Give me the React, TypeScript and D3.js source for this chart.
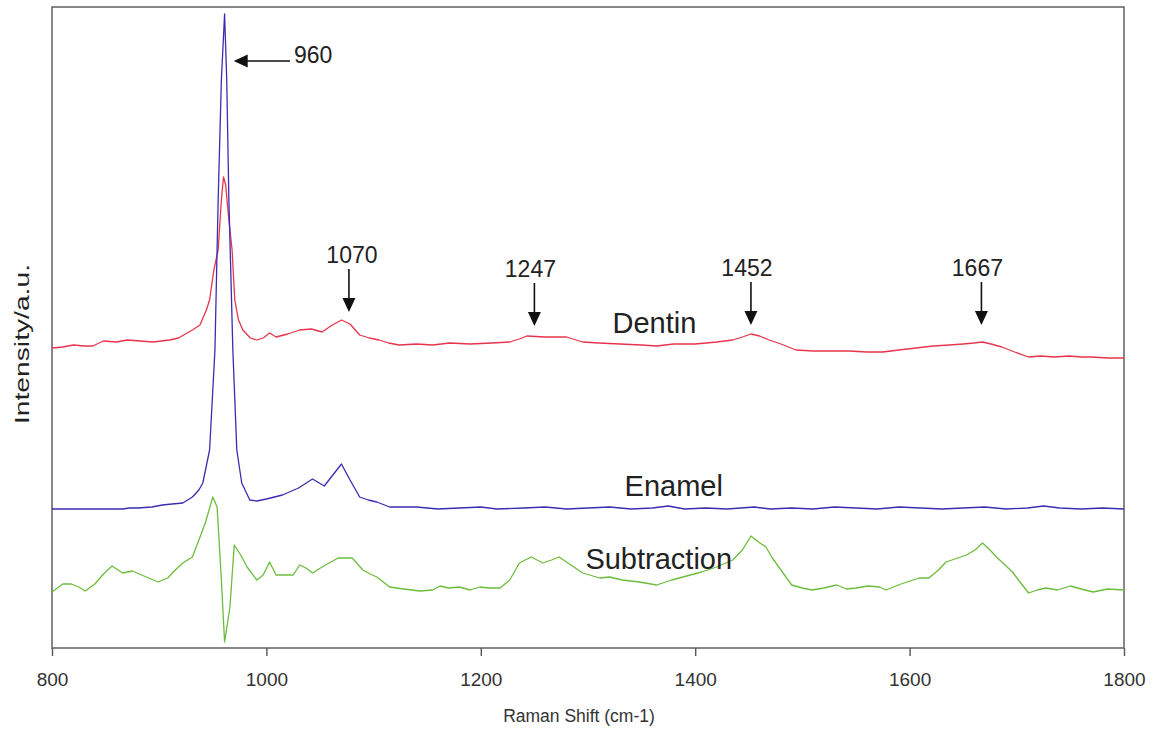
import React, { useEffect, useRef } from "react";
import * as d3 from "d3";

// Raman shift (cm-1) and intensity (a.u.) pairs
const dentin: [number, number][] = [
  [800, 302], [810, 303], [820, 305], [830, 304], [838, 304], [848, 309], [860, 308],
  [870, 310], [882, 309], [894, 308], [902, 309], [910, 310], [918, 312], [926, 317],
  [931, 320], [938, 325], [944, 340], [947, 350], [951, 380], [955, 400], [958, 450],
  [960, 473], [962, 465], [965, 430], [968, 400], [970.5, 350], [974, 330], [978, 320],
  [985, 312], [991, 310], [997, 312], [1003, 317], [1009, 313], [1020, 316], [1031, 320],
  [1042, 321], [1052, 318], [1060, 324], [1070, 330], [1078, 326], [1087, 315],
  [1096, 312], [1105, 310], [1114, 307], [1124, 305], [1140, 306], [1155, 305],
  [1171, 307], [1190, 306], [1210, 307], [1227, 308], [1236, 311], [1243, 314],
  [1260, 313], [1280, 313], [1295, 308], [1310, 307], [1330, 306], [1350, 305],
  [1364, 304], [1380, 306], [1400, 306], [1420, 308], [1435, 310], [1444, 313],
  [1452, 316], [1460, 314], [1469, 310], [1480, 306], [1494, 300], [1510, 299],
  [1544, 299], [1560, 298], [1575, 298], [1590, 300], [1606, 302], [1622, 304],
  [1637, 305], [1650, 306], [1660, 307], [1668, 308], [1676, 306], [1686, 303],
  [1698, 298], [1711, 293], [1722, 294], [1735, 293], [1749, 294], [1760, 293],
  [1770, 293], [1785, 292], [1800, 292],
];

const enamel: [number, number][] = [
  [800, 141], [830, 141], [866, 141], [872, 142], [880, 142], [893, 143], [903, 145],
  [912, 146], [922, 147], [931, 153], [937, 160], [940.7, 167], [947, 200], [952, 300],
  [955, 450], [958, 570], [961, 636], [963, 570], [965, 450], [968.7, 300], [972.4, 200],
  [977, 167], [984.5, 150], [991, 149], [1000, 151], [1015, 155], [1030, 162],
  [1043, 171], [1054, 164], [1062, 175], [1070, 186], [1078, 170], [1087, 153],
  [1095, 150], [1103, 148], [1115, 143], [1124, 143], [1140, 143], [1160, 141],
  [1180, 142], [1200, 143], [1215, 141], [1240, 142], [1260, 143], [1280, 141],
  [1300, 142], [1320, 143], [1340, 141], [1360, 142], [1375, 144], [1390, 141],
  [1410, 142], [1430, 141], [1455, 143], [1470, 141], [1490, 142], [1510, 141],
  [1530, 143], [1550, 142], [1570, 141], [1590, 143], [1610, 142], [1630, 141],
  [1650, 142], [1670, 143], [1690, 141], [1710, 142], [1725, 144], [1740, 142],
  [1760, 141], [1780, 142], [1800, 141],
];

const subtraction: [number, number][] = [
  [800, 58], [810, 66], [818, 66], [825, 63], [831, 59], [840, 66], [848, 76], [856, 84],
  [866, 77], [875, 79], [888, 73], [899, 68], [908, 72], [915, 80], [922, 87], [931, 93],
  [937, 110], [943, 127], [950, 153], [954, 143], [958, 70], [961, 8], [966, 43],
  [970, 105], [976, 95], [982, 83], [991, 70], [997, 75], [1003, 88], [1009, 75],
  [1025, 75], [1031, 85], [1037, 82], [1043, 77], [1055, 85], [1067, 92], [1080, 92],
  [1090, 80], [1097, 76], [1103, 73], [1109, 68], [1115, 63], [1128, 61], [1143, 59],
  [1155, 60], [1162, 64], [1170, 62], [1180, 63], [1190, 60], [1199, 63], [1208, 62],
  [1218, 62], [1227, 70], [1236, 87], [1247, 93], [1258, 87], [1266, 90], [1273, 93],
  [1284, 85], [1295, 77], [1311, 72], [1320, 73], [1332, 70], [1348, 68], [1364, 65],
  [1378, 70], [1392, 74], [1406, 78], [1420, 83], [1435, 90], [1444, 100], [1452, 114],
  [1459, 108], [1466, 103], [1472, 92], [1478, 83], [1484, 74], [1490, 65], [1500, 62],
  [1509, 60], [1520, 62], [1532, 65], [1541, 61], [1550, 62], [1561, 64], [1572, 63],
  [1578, 60], [1592, 66], [1609, 72], [1618, 72], [1627, 80], [1634, 88], [1645, 92],
  [1653, 95], [1661, 100], [1668, 107], [1675, 100], [1681, 93], [1689, 85], [1696, 78],
  [1703, 68], [1711, 57], [1719, 60], [1727, 62], [1738, 60], [1750, 64], [1760, 61],
  [1771, 58], [1785, 61], [1800, 60],
];

const xTicks = [800, 1000, 1200, 1400, 1600, 1800];

// Peak annotations: label, arrow position (cm-1) and the intensity the arrow points at
const peakLabels = ["1070", "1247", "1452", "1667"];
const peakArrowShifts = [1077, 1250, 1452, 1667];
const peakTargets = [338, 324, 325, 325];
const peakLabelOffsets = [3, -4, -4, -4];

const seriesNames = ["Dentin", "Enamel", "Subtraction"];
const seriesColors = ["#e8344c", "#3a2db0", "#6cbd3c"];
const seriesLabelShifts = [1362, 1380, 1366];
const seriesLabelLevels = [317, 154, 81];

export default function App() {
  const ref = useRef<SVGSVGElement | null>(null);

  useEffect(() => {
    const svg = d3.select(ref.current);
    svg.selectAll("*").remove();

    const left = 52, right = 1124, top = 7, bottom = 648;
    const x = d3.scaleLinear().domain([800, 1800]).range([left, right]);
    const y = d3.scaleLinear().domain([2, 643]).range([bottom, top]);

    const font = "Liberation Sans, Arial, sans-serif";

    // frame
    svg.append("rect")
      .attr("x", left).attr("y", top)
      .attr("width", right - left).attr("height", bottom - top)
      .attr("fill", "none").attr("stroke", "#6a6a6a").attr("stroke-width", 1.6);

    // x axis ticks
    const ax = svg.append("g").attr("transform", `translate(0,${bottom})`);
    ax.call(d3.axisBottom(x).tickValues(xTicks).tickSize(8).tickPadding(17).tickFormat(d3.format("d")) as any);
    ax.select(".domain").remove();
    ax.selectAll(".tick line").attr("stroke", "#555").attr("stroke-width", 1.4);
    ax.selectAll(".tick text")
      .attr("font-family", font).attr("font-size", 19).attr("fill", "#333");

    // curves
    const line = d3.line<[number, number]>()
      .x((d) => x(d[0])).y((d) => y(d[1]));
    const allSeries = [dentin, enamel, subtraction];
    allSeries.forEach((s, i) => {
      svg.append("path").datum(s)
        .attr("d", line as any)
        .attr("fill", "none")
        .attr("stroke", seriesColors[i])
        .attr("stroke-width", 1.3)
        .attr("stroke-linejoin", "round");
    });

    // series labels
    seriesNames.forEach((n, i) => {
      svg.append("text")
        .attr("x", x(seriesLabelShifts[i])).attr("y", y(seriesLabelLevels[i]))
        .attr("text-anchor", "middle")
        .attr("font-family", font).attr("font-size", 29).attr("fill", "#222")
        .text(n);
    });

    // arrow head helper
    const arrowHead = (tx: number, ty: number, dir: "down" | "left") => {
      const L = 14, W = 6.5;
      const pts = dir === "down"
        ? [[tx, ty], [tx - W, ty - L], [tx + W, ty - L]]
        : [[tx, ty], [tx + L, ty - W], [tx + L, ty + W]];
      svg.append("path")
        .attr("d", "M" + pts.map((p) => p.join(",")).join("L") + "Z")
        .attr("fill", "#111");
    };

    // 960 annotation (horizontal arrow pointing to main peak)
    const tip960 = x(969.5);
    svg.append("line")
      .attr("x1", tip960 + 10).attr("x2", 290)
      .attr("y1", 61).attr("y2", 61)
      .attr("stroke", "#111").attr("stroke-width", 1.6);
    arrowHead(tip960, 61, "left");
    svg.append("text")
      .attr("x", 294).attr("y", 63)
      .attr("font-family", font).attr("font-size", 23).attr("fill", "#222")
      .text("960");

    // vertical peak arrows
    peakArrowShifts.forEach((p, i) => {
      const px = x(p);
      const tipY = y(peakTargets[i]);
      const topY = tipY - 43;
      svg.append("line")
        .attr("x1", px).attr("x2", px)
        .attr("y1", topY).attr("y2", tipY - 10)
        .attr("stroke", "#111").attr("stroke-width", 1.6);
      arrowHead(px, tipY, "down");
      svg.append("text")
        .attr("x", px + peakLabelOffsets[i]).attr("y", topY - 6)
        .attr("text-anchor", "middle")
        .attr("font-family", font).attr("font-size", 23).attr("fill", "#222")
        .text(peakLabels[i]);
    });

    // axis titles
    svg.append("text")
      .attr("x", 579).attr("y", 722)
      .attr("text-anchor", "middle")
      .attr("font-family", font).attr("font-size", 17.5).attr("fill", "#333")
      .text("Raman Shift (cm-1)");
    svg.append("text")
      .attr("transform", `translate(29,344) rotate(-90)`)
      .attr("text-anchor", "middle")
      .attr("font-family", font).attr("font-size", 21).attr("fill", "#222")
      .attr("textLength", 160).attr("lengthAdjust", "spacingAndGlyphs")
      .text("Intensity/a.u.");
  }, []);

  return (
    <svg
      ref={ref}
      width={1155}
      height={730}
      style={{ position: "absolute", left: 0, top: 0, background: "#fff" }}
    />
  );
}
